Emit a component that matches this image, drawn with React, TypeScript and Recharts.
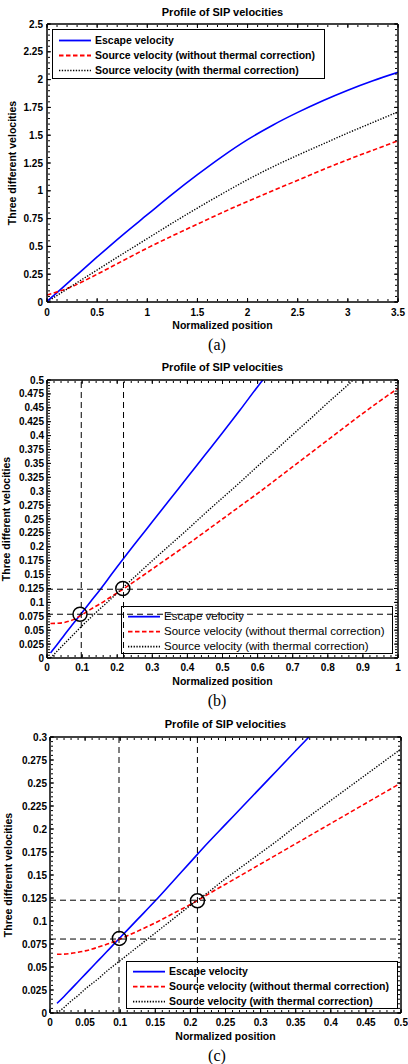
import React from 'react';
import { LineChart, Line, XAxis, YAxis, ReferenceLine, ReferenceDot, Legend } from 'recharts';

// ---------- Panel (a) ----------
const A_X = [0, 0.25, 0.5, 0.75, 1, 1.25, 1.5, 1.75, 2, 2.25, 2.5, 2.75, 3, 3.25, 3.5];
const A_ESCAPE = [0.005, 0.205, 0.405, 0.6, 0.785, 0.97, 1.145, 1.31, 1.46, 1.59, 1.705, 1.81, 1.905, 1.99, 2.065];
const A_NOTHERM = [0.063, 0.139, 0.25, 0.368, 0.485, 0.595, 0.7, 0.805, 0.905, 1.0, 1.095, 1.19, 1.28, 1.365, 1.45];
const A_THERM = [0.0, 0.146, 0.288, 0.43, 0.57, 0.71, 0.845, 0.975, 1.1, 1.215, 1.32, 1.42, 1.52, 1.615, 1.71];
const A_XTICKS = [0, 0.5, 1, 1.5, 2, 2.5, 3, 3.5];
const A_YTICKS = [0, 0.25, 0.5, 0.75, 1, 1.25, 1.5, 1.75, 2, 2.25, 2.5];

// ---------- Panel (b) ----------
const B_X = [0.01, 0.03, 0.05, 0.075, 0.1, 0.125, 0.15, 0.175, 0.2, 0.25, 0.3, 0.35, 0.4, 0.45, 0.5, 0.55, 0.6, 0.65, 0.7, 0.75, 0.8, 0.85, 0.9, 0.95, 1.0];
const B_ESCAPE = [0.009, 0.025, 0.042, 0.062, 0.082, 0.102, 0.122, 0.143, 0.164, 0.205, 0.245, 0.285, 0.325, 0.365, 0.405, 0.446, 0.488, 0.528, null, null, null, null, null, null, null];
const B_NOTHERM = [0.062, 0.0625, 0.064, 0.069, 0.078, 0.088, 0.097, 0.107, 0.117, 0.138, 0.16, 0.182, 0.204, 0.227, 0.25, 0.273, 0.296, 0.32, 0.344, 0.368, 0.392, 0.416, 0.44, 0.463, 0.485];
const B_THERM = [0.0, 0.013, 0.026, 0.042, 0.058, 0.073, 0.088, 0.102, 0.117, 0.146, 0.175, 0.203, 0.231, 0.26, 0.288, 0.316, 0.345, 0.373, 0.402, 0.43, 0.459, 0.487, 0.516, null, null];
const B_XTICKS = [0, 0.1, 0.2, 0.3, 0.4, 0.5, 0.6, 0.7, 0.8, 0.9, 1];
const B_YTICKS = [0, 0.025, 0.05, 0.075, 0.1, 0.125, 0.15, 0.175, 0.2, 0.225, 0.25, 0.275, 0.3, 0.325, 0.35, 0.375, 0.4, 0.425, 0.45, 0.475, 0.5];
const B_VLINES = [0.0976, 0.218];
const B_HLINES = [0.0787, 0.1237];
const B_CIRCLE_X = [0.094, 0.216];
const B_CIRCLE_Y = [0.0787, 0.125];

// ---------- Panel (c) ----------
const C_X = [0.01, 0.02, 0.03, 0.04, 0.05, 0.06, 0.07, 0.08, 0.09, 0.1, 0.125, 0.15, 0.175, 0.2, 0.225, 0.25, 0.275, 0.3, 0.325, 0.35, 0.375, 0.4, 0.425, 0.45, 0.475, 0.5];
const C_ESCAPE = [0.0105, 0.018, 0.026, 0.034, 0.042, 0.05, 0.058, 0.066, 0.074, 0.082, 0.102, 0.122, 0.143, 0.164, 0.185, 0.205, 0.225, 0.245, 0.265, 0.285, 0.305, null, null, null, null, null];
const C_NOTHERM = [0.0638, 0.064, 0.0648, 0.066, 0.0675, 0.0695, 0.072, 0.0745, 0.0772, 0.0805, 0.089, 0.098, 0.108, 0.118, 0.129, 0.14, 0.151, 0.162, 0.173, 0.184, 0.195, 0.206, 0.217, 0.228, 0.239, 0.25];
const C_THERM = [0.0, 0.006, 0.013, 0.019, 0.026, 0.032, 0.038, 0.045, 0.051, 0.057, 0.072, 0.087, 0.102, 0.117, 0.131, 0.146, 0.16, 0.174, 0.188, 0.203, 0.217, 0.231, 0.245, 0.259, 0.273, 0.287];
const C_XTICKS = [0, 0.05, 0.1, 0.15, 0.2, 0.25, 0.3, 0.35, 0.4, 0.45, 0.5];
const C_YTICKS = [0, 0.025, 0.05, 0.075, 0.1, 0.125, 0.15, 0.175, 0.2, 0.225, 0.25, 0.275, 0.3];
const C_VLINES = [0.0983, 0.21];
const C_HLINES = [0.0804, 0.1226];
const C_CIRCLE_X = [0.0988, 0.21];
const C_CIRCLE_Y = [0.0811, 0.1219];

const SERIES_NAMES = ['Escape velocity', 'Source velocity (without thermal correction)', 'Source velocity (with thermal correction)'];
const TITLE = 'Profile of SIP velocities';
const XLABEL = 'Normalized position';
const YLABEL = 'Three different velocities';

const FONT = '"Liberation Sans", Arial, Helvetica, sans-serif';

const STYLES: Record<string, { stroke: string; dash?: string; width: number }> = {
  esc: { stroke: '#0000ff', width: 1.6 },
  noth: { stroke: '#ff0000', dash: '4.5 2.5', width: 1.6 },
  th: { stroke: '#000000', dash: '1.3 1.5', width: 1.4 },
};
const KEY_ORDER = ['esc', 'noth', 'th'];

function rows(xs: number[], a: (number | null)[], b: (number | null)[], c: (number | null)[]) {
  return xs.map((x, i) => ({ x, esc: a[i], noth: b[i], th: c[i] }));
}

function steps(lo: number, hi: number, step: number) {
  const out: number[] = [];
  const n = Math.round((hi - lo) / step);
  for (let i = 0; i <= n; i++) out.push(+(lo + i * step).toFixed(6));
  return out;
}

const NoLabel = () => <g />;

function boxAxes(xd: [number, number], yd: [number, number], xMaj: number[], yMaj: number[], xMinStep: number, yMinStep: number) {
  const xMin = steps(xd[0], xd[1], xMinStep);
  const yMin = steps(yd[0], yd[1], yMinStep);
  const tl = { stroke: '#000', strokeWidth: 1 };
  const al = { stroke: '#000', strokeWidth: 1.5 };
  const xc = { dataKey: 'x', type: 'number' as const, domain: xd, allowDataOverflow: true, interval: 0, tick: NoLabel, tickLine: tl, mirror: true, height: 1 };
  const yc = { dataKey: 'noth', type: 'number' as const, domain: yd, allowDataOverflow: true, interval: 0, tick: NoLabel, tickLine: tl, mirror: true, width: 1 };
  return [
    <XAxis key="bMaj" xAxisId="bMaj" orientation="bottom" {...xc} ticks={xMaj} tickSize={4} axisLine={false} />,
    <XAxis key="bMin" xAxisId="bMin" orientation="bottom" {...xc} ticks={xMin} tickSize={2} axisLine={false} />,
    <XAxis key="tMaj" xAxisId="tMaj" orientation="top" {...xc} ticks={xMaj} tickSize={4} axisLine={al} />,
    <XAxis key="tMin" xAxisId="tMin" orientation="top" {...xc} ticks={xMin} tickSize={2} axisLine={false} />,
    <YAxis key="lMaj" yAxisId="lMaj" orientation="left" {...yc} ticks={yMaj} tickSize={4} axisLine={false} />,
    <YAxis key="lMin" yAxisId="lMin" orientation="left" {...yc} ticks={yMin} tickSize={2} axisLine={false} />,
    <YAxis key="rMaj" yAxisId="rMaj" orientation="right" {...yc} ticks={yMaj} tickSize={4} axisLine={al} />,
    <YAxis key="rMin" yAxisId="rMin" orientation="right" {...yc} ticks={yMin} tickSize={2} axisLine={false} />,
  ];
}

type LegendCfg = { left: number; top: number; width: number; height: number; bold: boolean; fontSize: number; padTop: number; rowH: number; lineX: number; lineLen: number; textX: number };

function makeLegendContent(cfg: LegendCfg) {
  return (props: any) => {
    const payload = [...(props.payload || [])].sort(
      (a: any, b: any) => KEY_ORDER.indexOf(a.dataKey) - KEY_ORDER.indexOf(b.dataKey)
    );
    return (
      <div style={{ width: cfg.width, height: cfg.height, border: '1.5px solid #000', boxSizing: 'border-box', position: 'relative', fontFamily: FONT, fontSize: cfg.fontSize, fontWeight: cfg.bold ? 'bold' : 'normal', color: '#000' }}>
        {payload.map((p: any, i: number) => {
          const st = STYLES[p.dataKey as string] || { stroke: p.color, width: 1.5 };
          const cy = cfg.padTop + cfg.rowH * (i + 0.5);
          return (
            <div key={i} style={{ position: 'absolute', left: 0, top: cy - cfg.rowH / 2, height: cfg.rowH, width: '100%' }}>
              <svg width={cfg.lineLen + 2} height={cfg.rowH} style={{ position: 'absolute', left: cfg.lineX - 1, top: 0 }}>
                <line x1={1} x2={cfg.lineLen + 1} y1={cfg.rowH / 2} y2={cfg.rowH / 2} stroke={st.stroke} strokeWidth={st.width + 0.2} strokeDasharray={st.dash} />
              </svg>
              <span style={{ position: 'absolute', left: cfg.textX, top: 0, lineHeight: cfg.rowH + 'px', whiteSpace: 'nowrap' }}>{p.value}</span>
            </div>
          );
        })}
      </div>
    );
  };
}

type PanelCfg = {
  data: any[];
  xd: [number, number];
  yd: [number, number];
  xTicks: number[];
  yTicks: number[];
  xMinStep: number;
  yMinStep: number;
  margin: { top: number; right: number; bottom: number; left: number };
  height: number;
  xTickMargin: number;
  yTickMargin: number;
  legend: LegendCfg;
  vlines?: number[];
  hlines?: number[];
  cx?: number[];
  cy?: number[];
};

const tickStyle = { fontSize: 10, fontWeight: 'bold', fill: '#000', fontFamily: FONT };

function Panel({ cfg }: { cfg: PanelCfg }) {
  return (
    <LineChart width={408} height={cfg.height} data={cfg.data} margin={cfg.margin}>
      <XAxis dataKey="x" type="number" domain={cfg.xd} allowDataOverflow ticks={cfg.xTicks} interval={0} tickLine={false} tickSize={0} tickMargin={cfg.xTickMargin} axisLine={{ stroke: '#000', strokeWidth: 1.5 }} tick={tickStyle} height={20} />
      <YAxis type="number" domain={cfg.yd} allowDataOverflow ticks={cfg.yTicks} interval={0} tickLine={false} tickSize={0} tickMargin={cfg.yTickMargin} axisLine={{ stroke: '#000', strokeWidth: 1.5 }} tick={tickStyle} width={40} />
      {boxAxes(cfg.xd, cfg.yd, cfg.xTicks, cfg.yTicks, cfg.xMinStep, cfg.yMinStep)}
      <Line type="monotone" dataKey="esc" name={SERIES_NAMES[0]} stroke={STYLES.esc.stroke} strokeWidth={STYLES.esc.width} dot={false} isAnimationActive={false} />
      <Line type="monotone" dataKey="noth" name={SERIES_NAMES[1]} stroke={STYLES.noth.stroke} strokeWidth={STYLES.noth.width} strokeDasharray={STYLES.noth.dash} dot={false} isAnimationActive={false} />
      <Line type="monotone" dataKey="th" name={SERIES_NAMES[2]} stroke={STYLES.th.stroke} strokeWidth={STYLES.th.width} strokeDasharray={STYLES.th.dash} dot={false} isAnimationActive={false} />
      {(cfg.vlines || []).map((v, i) => (
        <ReferenceLine key={'v' + i} x={v} stroke="#000" strokeWidth={1} strokeDasharray="6 4" />
      ))}
      {(cfg.hlines || []).map((v, i) => (
        <ReferenceLine key={'h' + i} y={v} stroke="#000" strokeWidth={1} strokeDasharray="6 4" />
      ))}
      {(cfg.cx || []).map((v, i) => (
        <ReferenceDot key={'c' + i} x={v} y={(cfg.cy || [])[i]} r={7} fill="none" stroke="#000" strokeWidth={1.5} />
      ))}
      <Legend
        layout="vertical"
        align="center"
        verticalAlign="middle"
        wrapperStyle={{ left: cfg.legend.left, top: cfg.legend.top, width: cfg.legend.width, height: cfg.legend.height }}
        content={makeLegendContent(cfg.legend)}
      />
    </LineChart>
  );
}

const textBase: React.CSSProperties = { position: 'absolute', fontFamily: FONT, fontWeight: 'bold', color: '#000', whiteSpace: 'nowrap', transform: 'translate(-50%, -50%)' };

function Labels({ top, plotCx, plotCy, titleY, xLabelY, capY, yLabelX, caption }: any) {
  return (
    <>
      <div style={{ ...textBase, left: plotCx, top: top + titleY, fontSize: 11 }}>{TITLE}</div>
      <div style={{ ...textBase, left: plotCx, top: top + xLabelY, fontSize: 10.5 }}>{XLABEL}</div>
      <div style={{ ...textBase, left: yLabelX, top: top + plotCy, fontSize: 10.5, transform: 'translate(-50%, -50%) rotate(-90deg)' }}>{YLABEL}</div>
      <div style={{ ...textBase, left: 217, top: top + capY, fontSize: 16, fontWeight: 'normal', fontFamily: '"Liberation Serif", "Times New Roman", serif' }}>{caption}</div>
    </>
  );
}

const panelA: PanelCfg = {
  data: rows(A_X, A_ESCAPE, A_NOTHERM, A_THERM),
  xd: [0, 3.5], yd: [0, 2.5], xTicks: A_XTICKS, yTicks: A_YTICKS, xMinStep: 0.1, yMinStep: 0.05,
  margin: { top: 24, right: 10, bottom: 18, left: 7 }, height: 340, xTickMargin: 7, yTickMargin: 4,
  legend: { left: 52, top: 29, width: 273, height: 50, bold: true, fontSize: 10.5, padTop: 2.5, rowH: 15, lineX: 6, lineLen: 32, textX: 42 },
};

const panelB: PanelCfg = {
  data: rows(B_X, B_ESCAPE, B_NOTHERM, B_THERM),
  xd: [0, 1], yd: [0, 0.5], xTicks: B_XTICKS, yTicks: B_YTICKS, xMinStep: 0.02, yMinStep: 0.005,
  margin: { top: 24, right: 10, bottom: 18, left: 7 }, height: 340, xTickMargin: 6, yTickMargin: 3,
  legend: { left: 121, top: 250, width: 272, height: 48, bold: false, fontSize: 11.5, padTop: 1.5, rowH: 15.3, lineX: 6, lineLen: 32, textX: 42 },
  vlines: B_VLINES, hlines: B_HLINES, cx: B_CIRCLE_X, cy: B_CIRCLE_Y,
};

const panelC: PanelCfg = {
  data: rows(C_X, C_ESCAPE, C_NOTHERM, C_THERM),
  xd: [0, 0.5], yd: [0, 0.3], xTicks: C_XTICKS, yTicks: C_YTICKS, xMinStep: 0.01, yMinStep: 0.005,
  margin: { top: 25, right: 7, bottom: 18, left: 10 }, height: 339, xTickMargin: 6, yTickMargin: 3,
  legend: { left: 126, top: 249, width: 272, height: 48, bold: true, fontSize: 10.5, padTop: 1.5, rowH: 15.3, lineX: 6, lineLen: 32, textX: 42 },
  vlines: C_VLINES, hlines: C_HLINES, cx: C_CIRCLE_X, cy: C_CIRCLE_Y,
};

export default function App() {
  return (
    <div style={{ position: 'absolute', left: 0, top: 0, width: 408, height: 1064, background: '#fff', overflow: 'hidden' }}>
      <div style={{ position: 'absolute', left: 0, top: 0 }}>
        <Panel cfg={panelA} />
      </div>
      <div style={{ position: 'absolute', left: 0, top: 356 }}>
        <Panel cfg={panelB} />
      </div>
      <div style={{ position: 'absolute', left: 0, top: 712 }}>
        <Panel cfg={panelC} />
      </div>
      <Labels top={0} plotCx={222.5} plotCy={163} titleY={11.7} xLabelY={325} capY={345} yLabelX={12} caption="(a)" />
      <Labels top={356} plotCx={222.5} plotCy={163} titleY={11} xLabelY={325} capY={345} yLabelX={6} caption="(b)" />
      <Labels top={712} plotCx={225.5} plotCy={163} titleY={12} xLabelY={324} capY={344} yLabelX={8} caption="(c)" />
    </div>
  );
}
